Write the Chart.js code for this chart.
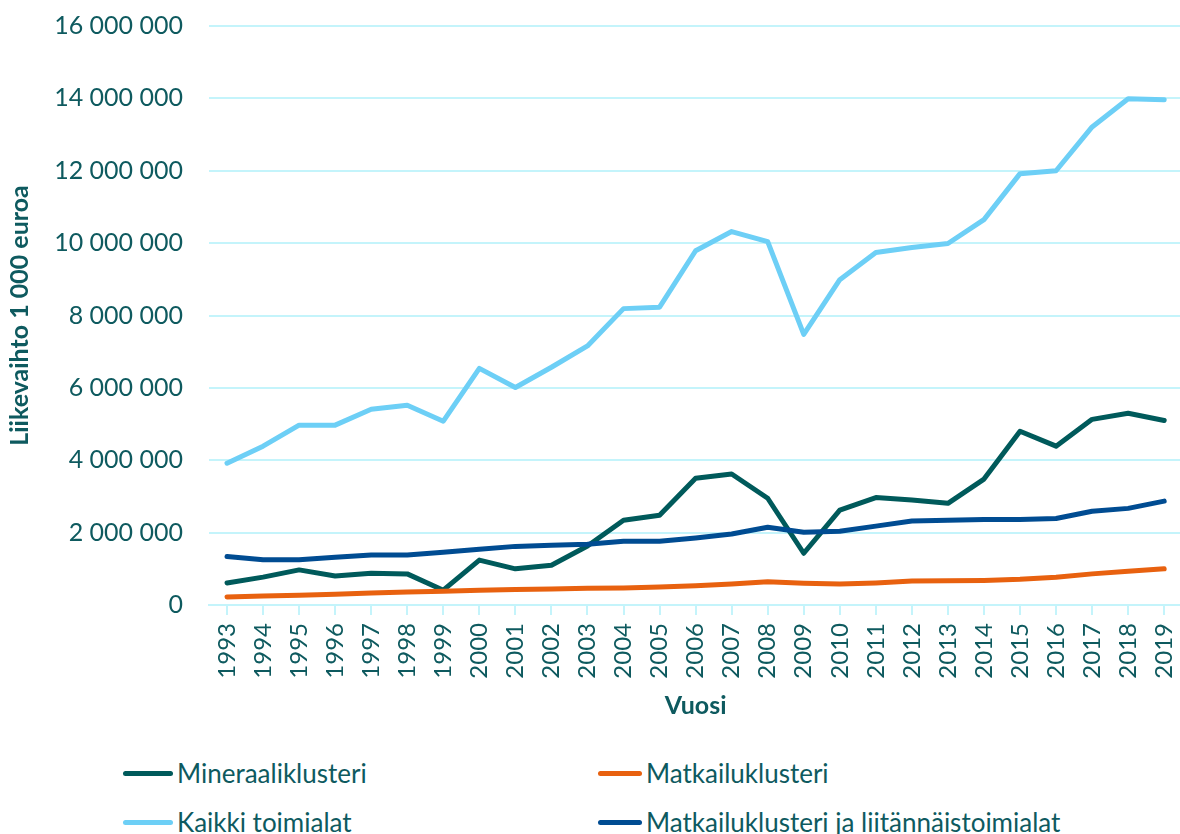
<!DOCTYPE html>
<html>
<head>
<meta charset="utf-8">
<script src="https://cdn.jsdelivr.net/npm/chart.js@4"></script>
<style>
  body { margin: 0; background: #fff; font-family: Lato, sans-serif; overflow: hidden; }
  #wrap { position: relative; width: 1180px; height: 834px; overflow: hidden; }
  #kaavio { position: absolute; left: 0; top: -15px; }
  .selite { position: absolute; display: flex; align-items: center; color: #0e5a5f; font-size: 26px; white-space: nowrap; }
  .selite span.viiva { display: inline-block; height: 5px; border-radius: 3px; margin-right: 4px; }
</style>
</head>
<body>
<div id="wrap">
  <canvas id="kaavio" width="1201" height="755"></canvas>
</div>
<script>
const vuodet = ['1993','1994','1995','1996','1997','1998','1999','2000','2001','2002','2003','2004','2005','2006','2007','2008','2009','2010','2011','2012','2013','2014','2015','2016','2017','2018','2019'];

const mineraaliklusteri = [610000, 770000, 970000, 800000, 880000, 860000, 410000, 1240000, 1000000, 1100000, 1630000, 2340000, 2480000, 3500000, 3620000, 2950000, 1430000, 2620000, 2970000, 2900000, 2810000, 3480000, 4800000, 4390000, 5130000, 5300000, 5100000];
const matkailuklusteri = [220000, 250000, 270000, 300000, 330000, 360000, 380000, 410000, 430000, 440000, 460000, 470000, 500000, 530000, 580000, 640000, 600000, 580000, 610000, 660000, 670000, 680000, 710000, 770000, 860000, 930000, 1000000];
const kaikkiToimialat = [3920000, 4390000, 4970000, 4970000, 5410000, 5520000, 5080000, 6540000, 6010000, 6570000, 7160000, 8190000, 8230000, 9790000, 10320000, 10040000, 7480000, 8990000, 9740000, 9880000, 9990000, 10650000, 11920000, 12000000, 13210000, 13990000, 13960000];
const liitannaistoimialat = [1340000, 1250000, 1250000, 1320000, 1380000, 1380000, 1460000, 1540000, 1620000, 1650000, 1680000, 1760000, 1760000, 1850000, 1960000, 2150000, 2010000, 2040000, 2180000, 2320000, 2340000, 2360000, 2360000, 2390000, 2590000, 2670000, 2870000];

const sarjat = [
    { nimi: 'Mineraaliklusteri', arvot: mineraaliklusteri, vari: '#005a5b' },
    { nimi: 'Matkailuklusteri', arvot: matkailuklusteri, vari: '#e8610f' },
    { nimi: 'Kaikki toimialat', arvot: kaikkiToimialat, vari: '#6dcff6' },
    { nimi: 'Matkailuklusteri ja liitännäistoimialat', arvot: liitannaistoimialat, vari: '#004c92' }
];

const tekstivari = '#0e5a5f';
const ruudukko = '#c4f4fb';
const fontti = 'Lato, sans-serif';

const muotoile = v => String(v).replace(/\B(?=(\d{3})+(?!\d))/g, ' ');

new Chart(document.getElementById('kaavio'), {
    type: 'line',
    data: {
        labels: vuodet,
        datasets: sarjat.map((s, i) => ({
            label: s.nimi,
            data: s.arvot,
            borderColor: s.vari,
            backgroundColor: s.vari,
            borderWidth: 5,
            pointRadius: 0,
            borderCapStyle: 'round',
            borderJoinStyle: 'round',
            tension: 0,
            order: sarjat.length - i
        }))
    },
    options: {
        responsive: false,
        animation: false,
        layout: { padding: { top: 10, right: 0, bottom: 0, left: 0 } },
        plugins: { legend: { display: false }, tooltip: { enabled: false } },
        scales: {
            x: {
                offset: true,
                grid: { display: true, drawOnChartArea: false, drawTicks: true, tickLength: 10, color: ruudukko, lineWidth: 2 },
                border: { display: true, color: ruudukko, width: 2 },
                ticks: { color: tekstivari, font: { family: fontti, size: 24 }, minRotation: 90, maxRotation: 90, padding: 8, autoSkip: false },
                title: { display: true, text: 'Vuosi', color: tekstivari, font: { family: fontti, size: 25, weight: 'bold' }, padding: { top: 0, bottom: 19 } },
                afterFit: s => { s.height = 135; }
            },
            y: {
                min: 0,
                max: 16000000,
                grid: { color: ruudukko, lineWidth: 2, drawTicks: false },
                border: { display: false },
                ticks: { stepSize: 2000000, color: tekstivari, font: { family: fontti, size: 25 }, padding: 26, callback: v => muotoile(v) },
                title: { display: true, text: 'Liikevaihto 1 000 euroa', color: tekstivari, font: { family: fontti, size: 25, weight: 'bold' }, padding: { top: 5, bottom: 0 } },
                afterFit: s => { s.width = 209; }
            }
        }
    }
});

// selite kahteen sarakkeeseen kuvan alle
const paikat = [
    { x: 123, y: 773, pituus: 50 },
    { x: 598, y: 773, pituus: 44 },
    { x: 123, y: 822, pituus: 50 },
    { x: 598, y: 822, pituus: 44 }
];
const wrap = document.getElementById('wrap');
sarjat.forEach((s, i) => {
    const p = paikat[i];
    const el = document.createElement('div');
    el.className = 'selite';
    el.style.left = p.x + 'px';
    el.style.top = (p.y - 16) + 'px';
    el.style.height = '32px';
    el.innerHTML = `<span class="viiva" style="width:${p.pituus}px;background:${s.vari}"></span>${s.nimi}`;
    wrap.appendChild(el);
});
</script>
</body>
</html>
